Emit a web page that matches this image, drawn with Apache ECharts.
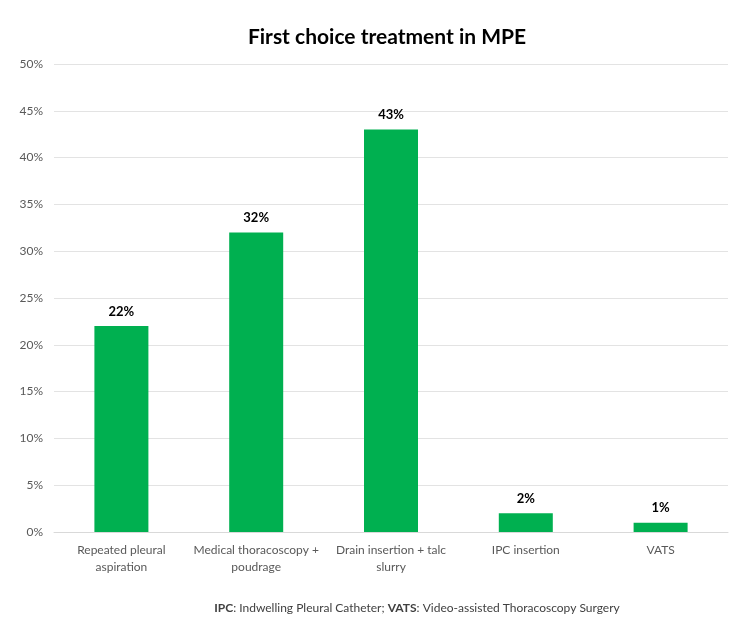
<!DOCTYPE html>
<html>
<head>
<meta charset="utf-8">
<script src="https://cdn.jsdelivr.net/npm/echarts@6/dist/echarts.min.js"></script>
<style>html,body{margin:0;padding:0;background:#fff}#c{width:744px;height:627px}</style>
</head>
<body>
<div id="c"></div>
<script>
const categories = ['Repeated pleural\naspiration', 'Medical thoracoscopy +\npoudrage', 'Drain insertion + talc\nslurry', 'IPC insertion', 'VATS'];
const values = [22, 32, 43, 2, 1];
const yTicks = { min: 0, max: 50, interval: 5 };
const titleText = 'First choice treatment in MPE';

const font = 'Lato, "Open Sans", sans-serif';
const chart = echarts.init(document.getElementById('c'), null, { renderer: 'canvas' });
chart.setOption({
  backgroundColor: '#fff',
  animation: false,
  title: [{
    text: titleText,
    left: 382, top: 22, textAlign: 'center',
    textStyle: { fontFamily: font, fontWeight: 'bold', fontSize: 21, color: '#000' }
  }, {
    text: '{b|IPC}: Indwelling Pleural Catheter; {b|VATS}: Video-assisted Thoracoscopy Surgery',
    left: 412, top: 597, textAlign: 'center',
    textStyle: {
      fontFamily: font, fontSize: 12, color: '#404040', fontWeight: 'normal',
      rich: { b: { fontFamily: font, fontSize: 12, fontWeight: 'bold', color: '#404040' } }
    }
  }],
  grid: { left: 54, right: 16, top: 64, bottom: 95 },
  xAxis: {
    type: 'category',
    data: categories,
    axisLine: { lineStyle: { color: '#d9d9d9' } },
    axisTick: { show: false },
    axisLabel: { fontFamily: font, fontSize: 12, color: '#595959', lineHeight: 17, margin: 10, interval: 0 }
  },
  yAxis: {
    type: 'value',
    min: yTicks.min, max: yTicks.max, interval: yTicks.interval,
    axisLine: { show: false },
    axisTick: { show: false },
    splitLine: { lineStyle: { color: '#e3e3e3' } },
    axisLabel: { fontFamily: font, fontSize: 12, color: '#595959', margin: 11, formatter: v => v + '%' }
  },
  series: [{
    type: 'bar',
    data: values,
    barWidth: 54,
    itemStyle: { color: '#00b050' },
    label: {
      show: true, position: 'top', distance: 8,
      formatter: p => p.value + '%',
      fontFamily: font, fontWeight: 'bold', fontSize: 13, color: '#000'
    }
  }]
});
</script>
</body>
</html>
